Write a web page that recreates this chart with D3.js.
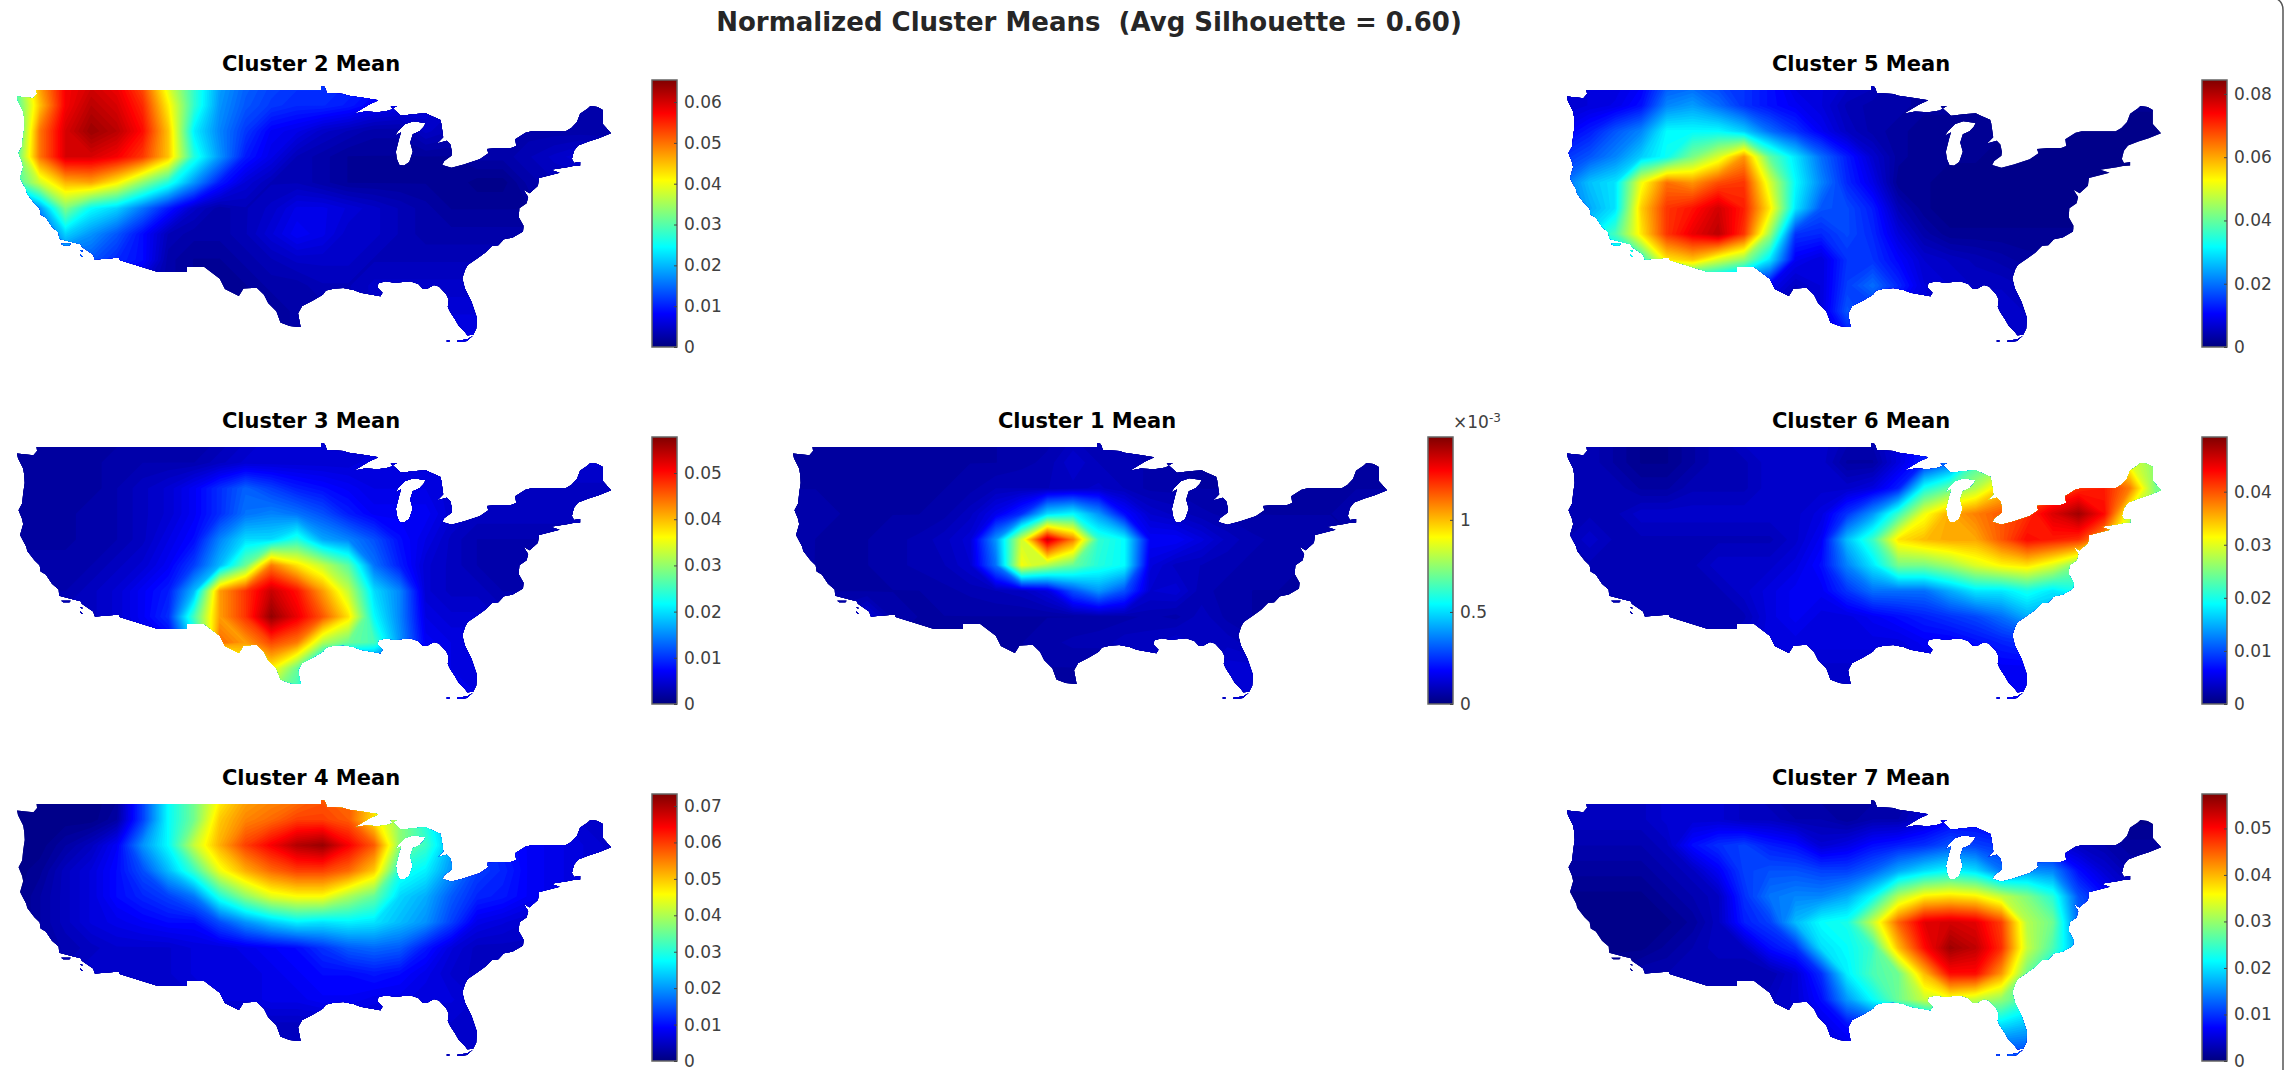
<!DOCTYPE html>
<html>
<head>
<meta charset="utf-8">
<script src="https://cdn.jsdelivr.net/npm/d3@7"></script>
<style>
  html, body { margin: 0; background: #fff; }
  svg { display: block; }
  text { font-family: "DejaVu Sans", sans-serif; }
</style>
</head>
<body>
<svg id="fig" width="2284" height="1070"></svg>
<script>
// coast and border of the map, lon/lat
const outline = [[-122.8,49],[-122.75,48.6],[-123.1,48.2],[-124.7,48.38],[-124.6,47.9],[-124.1,46.9],[-124,46.3],[-123.95,45.5],[-124.1,44.5],[-124.2,43.5],[-124.55,42.85],[-124.2,42],[-124.1,41.5],[-124.4,40.45],[-123.8,39.3],[-123.7,38.9],[-123,38],[-122.5,37.5],[-122.4,36.9],[-121.9,36.6],[-121.3,35.7],[-120.65,35.15],[-120.6,34.55],[-119.3,34.2],[-118.5,34],[-118.4,33.75],[-117.3,33],[-117.13,32.53],[-114.7,32.72],[-114.8,32.5],[-111.07,31.33],[-108.2,31.33],[-108.2,31.78],[-106.5,31.78],[-105,30.65],[-104.5,29.65],[-103.15,28.97],[-102.7,29.7],[-101.4,29.77],[-100.7,29.1],[-100.3,28.3],[-99.5,27.5],[-99.1,26.4],[-98.2,26.05],[-97.15,25.96],[-97.4,27.3],[-97,28],[-96,28.5],[-95,29.1],[-94.7,29.5],[-93.85,29.7],[-93,29.75],[-92,29.55],[-91.3,29.3],[-90.2,29.1],[-89.4,28.95],[-89.2,29.3],[-89.7,29.8],[-89.6,30.2],[-88.9,30.4],[-88,30.25],[-87.5,30.3],[-86.5,30.4],[-85.7,30.15],[-85.3,29.7],[-84.9,29.65],[-84.2,30.05],[-83.7,29.9],[-83,29.15],[-82.75,28.6],[-82.85,27.9],[-82.6,27.4],[-82.15,26.7],[-81.8,26.1],[-81.2,25.5],[-80.95,25.15],[-80.4,25.2],[-80.1,25.8],[-80.05,26.9],[-80.55,28.4],[-81.2,29.7],[-81.45,30.7],[-81.15,31.6],[-80.9,32],[-79.9,32.7],[-79.2,33.2],[-78.55,33.85],[-77.95,33.9],[-77.4,34.5],[-76.55,34.65],[-75.55,35.25],[-75.5,35.8],[-75.95,36.6],[-75.95,36.9],[-75.9,37.5],[-75.2,38],[-75.05,38.6],[-75.5,39.3],[-74.9,38.95],[-74.1,39.7],[-74,40.45],[-72,40.95],[-72.9,41.25],[-71.3,41.5],[-70.7,41.6],[-70,41.65],[-70,42],[-70.6,41.9],[-70.8,42.3],[-70.7,42.7],[-70.6,43.1],[-70.2,43.6],[-69.2,44],[-68.2,44.3],[-67,44.8],[-67.45,45.3],[-67.8,45.7],[-67.8,47.05],[-68.3,47.35],[-69,47.45],[-69.25,47.2],[-70,46.7],[-70.3,45.9],[-70.85,45.3],[-71.4,45],[-74.7,45],[-75.3,44.85],[-76.3,44.2],[-76.2,43.55],[-76.7,43.35],[-78,43.37],[-79.05,43.27],[-78.9,42.85],[-79.75,42.27],[-81.3,41.75],[-82.5,41.45],[-83.4,41.72],[-83.2,42.1],[-82.5,42.6],[-82.45,43],[-82.6,43.7],[-82.95,44.07],[-83.4,43.95],[-83.9,43.8],[-83.3,44.4],[-83.4,45.1],[-83.5,45.8],[-83.6,46.1],[-84.5,46.5],[-85,46.75],[-86.2,46.65],[-87.4,46.5],[-88.4,47.4],[-87.8,47.45],[-88.5,47],[-89.6,46.83],[-90.9,46.9],[-92,46.7],[-90.5,47.6],[-89.6,48],[-90.8,48.2],[-92.5,48.45],[-93,48.6],[-94.6,48.7],[-94.8,49.3],[-95.15,49.38],[-95.15,49]];
const lakeMichigan = [[-85,45.8],[-86.2,45.95],[-87,45.7],[-87.7,45],[-88,44.55],[-87.4,44.9],[-87.6,44.2],[-87.9,43],[-87.8,42.3],[-87.55,41.7],[-87.1,41.65],[-86.6,42],[-86.25,43],[-86.5,43.9],[-86.25,44.7],[-85.6,45],[-85.2,45.4]];
const islands = [
  [[-120.4,34.05],[-119.5,34.05],[-119.6,33.9],[-120.2,33.9]],
  [[-118.6,33.48],[-118.3,33.35],[-118.4,33.3]],
  [[-118.6,33.05],[-118.3,32.8],[-118.45,32.8]],
  [[-82.95,24.65],[-82.7,24.65],[-82.7,24.55],[-82.95,24.55]],
  [[-81.9,24.65],[-81,24.75],[-80.4,25.1],[-80.6,24.95],[-81,24.6],[-81.9,24.5]]
];

// field grid axes
const lons = d3.range(-125, -64, 2.5);
const lats = d3.range(50, 22, -2.5);

// values, 1e-3 units (cluster 1: 1e-5 units), rows run north to south
const cluster1 = [
  [6,6,5,5,5,5,5,6,6,7,7,9,8,8,6,5,5,5,5,5,5,6,6,6,6],
  [6,6,5,5,5,5,5,6,6,7,8,12,9,9,7,6,6,5,5,5,5,6,6,6,6],
  [6,6,6,5,5,5,6,7,9,9,9,10,11,9,7,7,6,6,5,5,6,6,6,6,6],
  [7,7,6,6,6,6,7,10,16,25,50,55,40,20,12,10,8,7,6,6,6,6,7,7,7],
  [8,6,6,6,7,8,10,13,40,85,135,110,62,55,18,18,14,10,8,7,7,7,6,6,6],
  [7,6,6,6,7,8,9,12,35,90,80,70,60,55,14,10,9,8,7,7,6,6,6,6,6],
  [6,6,6,6,6,6,7,8,9,10,14,30,40,30,12,13,8,7,6,6,6,6,6,6,6],
  [6,7,9,14,7,6,6,6,6,6,6,6,7,7,8,7,10,7,6,6,6,6,6,6,6],
  [6,6,6,6,6,6,6,6,6,6,7,8,8,10,10,12,10,10,8,6,6,6,6,6,6],
  [6,6,6,6,6,6,6,6,6,6,6,6,6,6,8,8,10,13,13,7,6,6,6,6,6],
  [6,6,6,6,6,6,6,6,6,6,6,6,6,6,6,8,10,13,13,7,6,6,6,6,6],
  [6,6,6,6,6,6,6,6,6,6,6,6,6,6,6,8,10,13,13,7,6,6,6,6,6]
];
const cluster2 = [
  [30,48,58,60,58,52,38,28,19,15,13,12,12,11,10,8,7,6,5,4,4,3,3,3,3],
  [28,45,58,62,60,55,42,28,18,14,12,11,11,10,8,7,6,5,4,4,3,3,3,3,3],
  [25,50,60,64,62,57,45,24,17,12,8,7,5,4,3,3,5,4,3,3,3,3,3,3,3],
  [28,50,60,60,58,54,45,27,18,10,7,4,3,2,2,2,2,2,3,3,4,5,6,5,5],
  [28,38,46,47,42,34,27,18,10,6,4,4,3,2,2,2,2,2,1,1,3,4,4,4,4],
  [8,18,33,25,22,16,10,5,3,4,5,7,7,6,5,4,3,2,2,2,2,3,3,3,3],
  [8,12,22,18,14,9,4,3,3,4,6,8,7,5,5,4,3,3,3,3,3,3,3,3,3],
  [5,8,14,14,11,9,3,2,2,3,4,5,5,5,4,4,4,4,4,4,4,4,4,4,4],
  [4,5,8,8,7,5,3,2,2,2,3,3,4,4,5,5,5,5,5,5,5,5,5,5,5],
  [3,3,4,4,4,4,3,2,2,2,2,3,3,4,5,5,6,6,6,5,5,5,5,5,5],
  [3,3,3,3,3,3,2,2,2,2,2,3,3,4,4,5,6,7,7,6,5,5,5,5,5],
  [3,3,3,3,3,3,2,2,2,2,2,3,3,4,4,5,6,7,7,6,5,5,5,5,5]
];
const cluster3 = [
  [2,2,2,2,2,3,3,3,3,4,5,5,5,5,5,6,6,6,6,6,5,5,5,5,5],
  [2,2,2,2,3,3,3,3,4,5,5,5,5,5,6,6,6,6,5,5,5,5,5,5,5],
  [2,2,2,2,3,4,5,7,10,13,11,9,8,7,6,6,6,5,5,4,4,4,4,4,4],
  [2,2,2,3,3,4,5,7,10,14,15,14,12,9,7,7,7,5,4,4,4,4,4,4,4],
  [2,2,2,3,3,4,6,8,15,20,20,24,17,15,12,8,6,4,3,3,3,3,3,3,3],
  [3,3,3,3,4,5,7,11,18,28,44,38,33,27,14,9,5,4,3,3,3,3,3,3,3],
  [3,3,3,4,5,7,9,18,42,48,54,50,42,33,20,15,5,4,4,3,3,3,3,3,3],
  [5,5,4,4,5,7,10,26,42,48,57,52,46,38,22,15,6,5,5,4,4,4,4,4,4],
  [5,5,5,5,5,6,7,20,45,42,47,44,32,28,26,16,7,6,6,5,5,5,5,5,5],
  [5,5,5,5,5,6,6,10,20,35,37,28,14,8,8,8,7,6,6,5,5,5,5,5,5],
  [5,5,5,5,5,5,5,8,15,28,30,25,12,7,7,7,7,7,6,5,5,5,5,5,5],
  [5,5,5,5,5,5,5,8,15,28,30,25,12,7,7,7,7,7,6,5,5,5,5,5,5]
];
const cluster4 = [
  [1,1,1,1,2,14,28,36,46,52,54,55,58,58,50,40,30,20,15,12,10,8,6,6,6],
  [1,1,1,1,3,14,28,36,50,55,57,60,60,58,48,38,30,20,15,12,10,8,6,6,6],
  [1,1,3,5,9,20,28,42,52,60,65,70,72,65,58,38,32,22,14,11,9,8,7,6,6],
  [1,2,5,7,10,15,23,32,45,52,57,60,60,57,50,30,27,20,14,12,9,8,7,6,6],
  [1,3,5,7,10,12,14,18,30,38,44,46,46,40,35,25,22,16,12,11,9,8,7,6,6],
  [1,3,5,7,8,9,10,10,15,20,24,27,26,27,26,23,20,14,8,7,6,6,6,6,6],
  [3,3,4,5,6,6,6,7,7,8,9,10,13,16,17,16,11,7,5,5,5,5,5,5,5],
  [4,4,5,6,6,6,6,7,7,7,8,9,10,10,11,10,8,6,5,5,5,5,5,5,5],
  [5,5,5,5,6,6,6,6,7,7,8,8,9,9,8,8,7,7,6,6,6,6,6,6,6],
  [5,5,5,5,5,5,5,5,5,5,5,5,5,6,6,6,6,6,6,6,5,5,5,5,5],
  [5,5,5,5,5,5,5,5,5,5,5,5,5,6,6,6,6,6,6,6,5,5,5,5,5],
  [5,5,5,5,5,5,5,5,5,5,5,5,5,6,6,6,6,6,6,6,5,5,5,5,5]
];
const cluster5 = [
  [7,8,8,10,17,18,16,15,12,8,8,7,6,4,3,3,3,2,2,2,2,2,2,2,2],
  [7,8,9,12,22,24,20,15,12,10,8,5,4,4,3,3,2,2,2,2,2,2,2,2,2],
  [10,13,18,22,32,32,32,28,20,15,10,6,4,3,2,2,2,2,2,1,1,1,1,1,1],
  [15,18,22,28,33,42,50,62,40,30,20,13,7,3,2,2,2,1,1,1,1,1,1,1,1],
  [20,27,30,52,65,62,68,70,50,32,22,14,9,2,2,1,1,1,1,1,1,1,1,1,1],
  [20,25,30,57,70,73,78,72,55,30,18,17,13,5,2,1,1,1,1,1,1,1,1,1,1],
  [25,30,38,55,70,76,80,70,45,15,14,17,14,8,4,2,2,2,2,2,2,2,2,2,2],
  [15,15,25,35,55,58,50,44,30,10,8,15,15,11,7,6,5,4,3,3,3,3,3,3,3],
  [6,6,10,15,20,22,20,15,10,6,8,16,20,14,8,7,6,6,5,5,4,4,4,4,4],
  [4,4,4,5,5,6,6,6,6,6,8,18,15,10,8,7,7,7,6,5,4,4,4,4,4],
  [4,4,4,4,4,4,4,4,4,5,7,12,12,9,7,7,7,7,7,5,4,4,4,4,4],
  [4,4,4,4,4,4,4,4,4,5,7,12,12,9,7,7,7,7,7,5,4,4,4,4,4]
];
const cluster6 = [
  [3,3,2,1,1,2,3,4,4,4,4,3,3,5,8,9,10,10,12,16,24,28,34,34,34],
  [3,3,2,1,1,2,3,3,4,4,4,2,2,5,8,12,22,25,30,32,35,36,30,26,25],
  [3,3,3,2,2,3,3,3,4,4,4,4,5,8,20,24,28,34,38,40,42,43,38,25,25],
  [3,3,3,4,4,4,4,4,4,4,5,9,14,22,31,36,38,40,42,46,49,44,30,27,27],
  [3,4,3,3,3,3,3,3,3,4,6,16,22,33,35,36,36,40,44,43,42,36,25,20,20],
  [3,3,3,3,3,3,4,4,4,5,7,13,18,25,25,27,30,32,33,30,25,15,10,8,8],
  [2,2,3,3,3,3,3,4,5,6,6,9,12,12,12,15,18,18,20,18,20,10,6,6,6],
  [3,3,3,3,3,3,3,3,5,6,5,5,6,7,8,9,10,12,15,15,12,7,5,5,5],
  [3,3,3,3,3,3,3,4,5,5,5,5,5,5,6,6,7,8,9,9,7,5,4,4,4],
  [3,3,3,3,3,3,3,4,4,4,4,4,4,4,5,5,5,6,6,6,5,4,4,4,4],
  [3,3,3,3,3,3,3,4,4,4,4,4,4,4,5,5,5,6,6,6,5,4,4,4,4],
  [3,3,3,3,3,3,3,4,4,4,4,4,4,4,5,5,5,6,6,6,5,4,4,4,4]
];
const cluster7 = [
  [4,4,4,4,5,5,5,4,3,2,2,2,2,2,4,6,6,5,5,4,3,2,2,2,2],
  [4,4,4,4,5,5,5,4,4,3,3,2,3,3,5,7,7,6,6,5,3,2,1,1,1],
  [3,3,3,3,4,8,10,11,9,8,5,6,8,9,10,12,11,10,8,6,4,3,2,2,2],
  [2,2,2,2,3,4,7,11,12,12,11,11,13,17,20,22,20,14,16,15,8,5,3,3,3],
  [1,1,1,1,2,3,4,10,14,15,15,17,22,32,37,38,37,33,29,24,12,8,5,5,5],
  [1,1,1,1,1,2,4,9,11,18,22,23,33,45,52,53,52,47,32,28,13,10,6,6,6],
  [1,1,1,1,2,3,4,4,8,10,20,22,25,40,50,56,54,48,33,26,16,8,5,5,5],
  [2,2,2,3,3,3,3,3,3,5,10,21,26,28,40,50,50,42,28,20,10,6,5,5,5],
  [2,3,3,3,3,3,3,3,4,5,8,16,22,28,33,35,33,30,25,15,8,6,5,5,5],
  [3,3,3,3,3,3,3,3,3,4,6,8,10,12,13,16,18,20,18,12,6,5,5,5,5],
  [3,3,3,3,3,3,3,3,3,4,5,6,7,8,10,12,12,12,12,10,6,5,5,5,5],
  [3,3,3,3,3,3,3,3,3,4,5,6,7,8,10,12,12,12,12,10,6,5,5,5,5]
];

const panelNames = ["Cluster 2 Mean", "Cluster 5 Mean", "Cluster 3 Mean", "Cluster 1 Mean", "Cluster 6 Mean", "Cluster 4 Mean", "Cluster 7 Mean"];
const panelFields = [cluster2, cluster5, cluster3, cluster1, cluster6, cluster4, cluster7];
const panelCols = [0, 2, 0, 1, 2, 0, 2];
const panelRows = [0, 0, 1, 1, 1, 2, 2];
const panelMax = [65.4, 84.4, 57.8, 145, 50.3, 73.3, 57.4];
const panelTicks = [
  [0,10,20,30,40,50,60], [0,20,40,60,80], [0,10,20,30,40,50], [0,50,100],
  [0,10,20,30,40], [0,10,20,30,40,50,60,70], [0,10,20,30,40,50]
];

const mapLeft = [17, 793, 1567], barLeft = [652, 1428, 2202];
const mapTop = [90, 447, 804];
const mapW = 594, mapH = 252, barW = 25, barH = 267;

const jetStops = [0, .125, .375, .625, .875, 1];
const jetColors = ["#00007f", "#0000ff", "#00ffff", "#ffff00", "#ff0000", "#7f0000"];
const jet = d3.scaleLinear().domain(jetStops).range(jetColors).clamp(true);

const svg = d3.select("#fig");
const defs = svg.append("defs");

const grad = defs.append("linearGradient").attr("id", "jetbar")
  .attr("x1", 0).attr("x2", 0).attr("y1", 1).attr("y2", 0);
jetStops.forEach((s, i) => grad.append("stop").attr("offset", s).attr("stop-color", jetColors[i]));

svg.append("text").attr("x", 1089).attr("y", 31)
  .attr("text-anchor", "middle").attr("font-size", 26).attr("font-weight", "bold")
  .attr("fill", "#262626").attr("xml:space", "preserve")
  .text("Normalized Cluster Means  (Avg Silhouette = 0.60)");

panelNames.forEach((name, p) => {
  const c = panelCols[p], r = panelRows[p];
  const g = svg.append("g");

  // lon/lat to screen
  const x = d3.scaleLinear().domain([-124.7, -67]).range([mapLeft[c], mapLeft[c] + mapW]);
  const y = d3.scaleLinear().domain([49, 24.5]).range([mapTop[r], mapTop[r] + mapH]);
  const gridLon = d3.scaleLinear().domain([0.5, lons.length - 0.5]).range([lons[0], lons[lons.length - 1]]);
  const gridLat = d3.scaleLinear().domain([0.5, lats.length - 0.5]).range([lats[0], lats[lats.length - 1]]);

  const ring = pts => "M" + pts.map(q => x(q[0]) + "," + y(q[1])).join("L") + "Z";
  const clipId = "land" + p;
  defs.append("clipPath").attr("id", clipId).append("path")
    .attr("clip-rule", "evenodd")
    .attr("d", ring(outline) + ring(lakeMichigan) + islands.map(ring).join(""));

  const field = g.append("g").attr("clip-path", `url(#${clipId})`);
  const maxV = panelMax[p];
  const values = panelFields[p].flat();

  field.append("rect").attr("x", mapLeft[c] - 5).attr("y", mapTop[r] - 8)
    .attr("width", mapW + 10).attr("height", mapH + 16).attr("fill", jet(0));

  const project = d3.geoPath(d3.geoTransform({
    point(a, b) { this.stream.point(x(gridLon(a)), y(gridLat(b))); }
  }));
  const levels = d3.range(1, 96).map(i => maxV * i / 96);
  const bands = d3.contours().size([lons.length, lats.length]).thresholds(levels)(values);
  field.selectAll("path").data(bands).join("path")
    .attr("d", project)
    .attr("fill", d => jet(d.value / maxV));

  // title centred over the map
  g.append("text").attr("x", mapLeft[c] + 294).attr("y", mapTop[r] - 19)
    .attr("text-anchor", "middle").attr("font-size", 21).attr("font-weight", "bold")
    .attr("fill", "#000").text(name);

  // colour bar
  const barTop = mapTop[r] - 10;
  const bx = barLeft[c];
  g.append("rect").attr("x", bx).attr("y", barTop).attr("width", barW).attr("height", barH)
    .attr("fill", "url(#jetbar)").attr("stroke", "#666").attr("stroke-width", 1.5);

  const barScale = d3.scaleLinear().domain([0, maxV]).range([barTop + barH, barTop]);
  const isMilli = p === 3;
  const fmt = v => v === 0 ? "0" : isMilli ? String(v / 100) : (v / 1000).toFixed(2);
  const axis = g.append("g").attr("transform", `translate(${bx + barW},0)`)
    .call(d3.axisRight(barScale).tickValues(panelTicks[p]).tickSize(0).tickPadding(7).tickFormat(fmt));
  axis.select(".domain").remove();
  axis.selectAll("text").attr("font-size", 17).attr("font-family", "DejaVu Sans").attr("fill", "#404040");
  axis.selectAll(".tick").append("line").attr("x1", -3).attr("x2", 0).attr("stroke", "#444").attr("stroke-width", 1);

  if (isMilli) {
    const t = g.append("text").attr("x", bx + 25).attr("y", barTop - 9).attr("fill", "#404040").attr("font-size", 17);
    t.append("tspan").text("×10");
    t.append("tspan").attr("font-size", 12).attr("dy", -6).text("-3");
  }
});

// window edge along the right side
svg.append("path").attr("d", "M2275,-2Q2283,1 2283,10V1070").attr("fill", "none").attr("stroke", "#555").attr("stroke-width", 1.5);
</script>
</body>
</html>
